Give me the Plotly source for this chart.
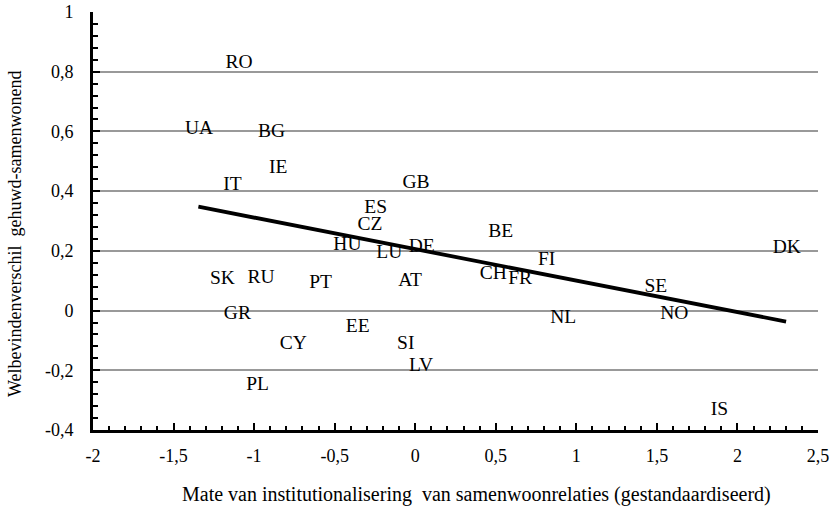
import plotly.graph_objects as go

countries = ["RO", "UA", "BG", "IE", "IT", "GB", "ES", "CZ", "HU", "LU", "DE",
             "SK", "RU", "PT", "AT", "GR", "EE", "CY", "SI", "LV", "PL",
             "BE", "DK", "FI", "CH", "FR", "SE", "NO", "NL", "IS"]
x_vals = [-1.094, -1.342, -0.891, -0.850, -1.135, 0.005, -0.245, -0.281, -0.421, -0.161, 0.040,
          -1.197, -0.957, -0.587, -0.032, -1.104, -0.357, -0.757, -0.059, 0.036, -0.978,
          0.531, 2.306, 0.816, 0.485, 0.651, 1.493, 1.608, 0.919, 1.888]
y_vals = [0.829, 0.607, 0.597, 0.477, 0.421, 0.426, 0.343, 0.287, 0.220, 0.192, 0.214,
          0.106, 0.108, 0.091, 0.100, -0.011, -0.056, -0.113, -0.113, -0.186, -0.249,
          0.262, 0.209, 0.169, 0.123, 0.106, 0.078, -0.012, -0.026, -0.335]

trend_x = [-1.346, 2.302]
trend_y = [0.348, -0.037]

x_tickvals = [-2, -1.5, -1, -0.5, 0, 0.5, 1, 1.5, 2, 2.5]
x_ticktext = ["-2", "-1,5", "-1", "-0,5", "0", "0,5", "1", "1,5", "2", "2,5"]
y_tickvals = [-0.4, -0.2, 0, 0.2, 0.4, 0.6, 0.8, 1]
y_ticktext = ["-0,4", "-0,2", "0", "0,2", "0,4", "0,6", "0,8", "1"]

x_title = "Mate van institutionalisering  van samenwoonrelaties (gestandaardiseerd)"
y_title = "Welbevindenverschil  gehuwd-samenwonend"

FONT = "Liberation Serif"

fig = go.Figure()
fig.add_trace(go.Scatter(
    x=trend_x, y=trend_y, mode="lines",
    line=dict(color="black", width=3.8), hoverinfo="skip", showlegend=False))
fig.add_trace(go.Scatter(
    x=x_vals, y=y_vals, mode="text", text=countries,
    textposition="middle center",
    textfont=dict(family=FONT, size=19.5, color="black"),
    cliponaxis=False, showlegend=False))

fig.update_layout(
    width=832, height=506,
    margin=dict(l=93, r=14, t=12, b=76),
    paper_bgcolor="white", plot_bgcolor="white",
    font=dict(family=FONT, size=18, color="black"),
    showlegend=False,
    annotations=[
        dict(text=x_title, xref="paper", yref="paper", x=0.5, y=0,
             xanchor="center", yanchor="middle", xshift=21, yshift=-64,
             showarrow=False, font=dict(family=FONT, size=20, color="black")),
        dict(text=y_title, xref="paper", yref="paper", x=0, y=0,
             xanchor="center", yanchor="middle", xshift=-78, yshift=196,
             textangle=-90, showarrow=False,
             font=dict(family=FONT, size=18, color="black")),
    ],
)
fig.update_xaxes(
    range=[-2, 2.5], tickvals=x_tickvals, ticktext=x_ticktext,
    showgrid=False, zeroline=False,
    showline=True, linecolor="black", linewidth=3,
    ticks="inside", ticklen=7, tickwidth=2, tickcolor="black",
    minor=dict(dtick=0.1, tick0=0, ticks="inside", ticklen=4, tickwidth=2, tickcolor="black"),
    ticklabelstandoff=7,
    tickfont=dict(family=FONT, size=18),
    automargin=False,
)
fig.update_yaxes(
    range=[-0.4, 1], tickvals=y_tickvals, ticktext=y_ticktext,
    showgrid=True, gridcolor="#999999", gridwidth=2,
    zeroline=False,
    showline=True, linecolor="black", linewidth=3,
    ticks="inside", ticklen=7, tickwidth=2, tickcolor="black",
    minor=dict(dtick=0.04, tick0=0, ticks="inside", ticklen=5, tickwidth=2, tickcolor="black", showgrid=False),
    ticklabelstandoff=13,
    tickfont=dict(family=FONT, size=18),
    automargin=False,
)

fig.write_html("out.html", config={"displayModeBar": False},
               post_script="document.body.style.margin='0';")
